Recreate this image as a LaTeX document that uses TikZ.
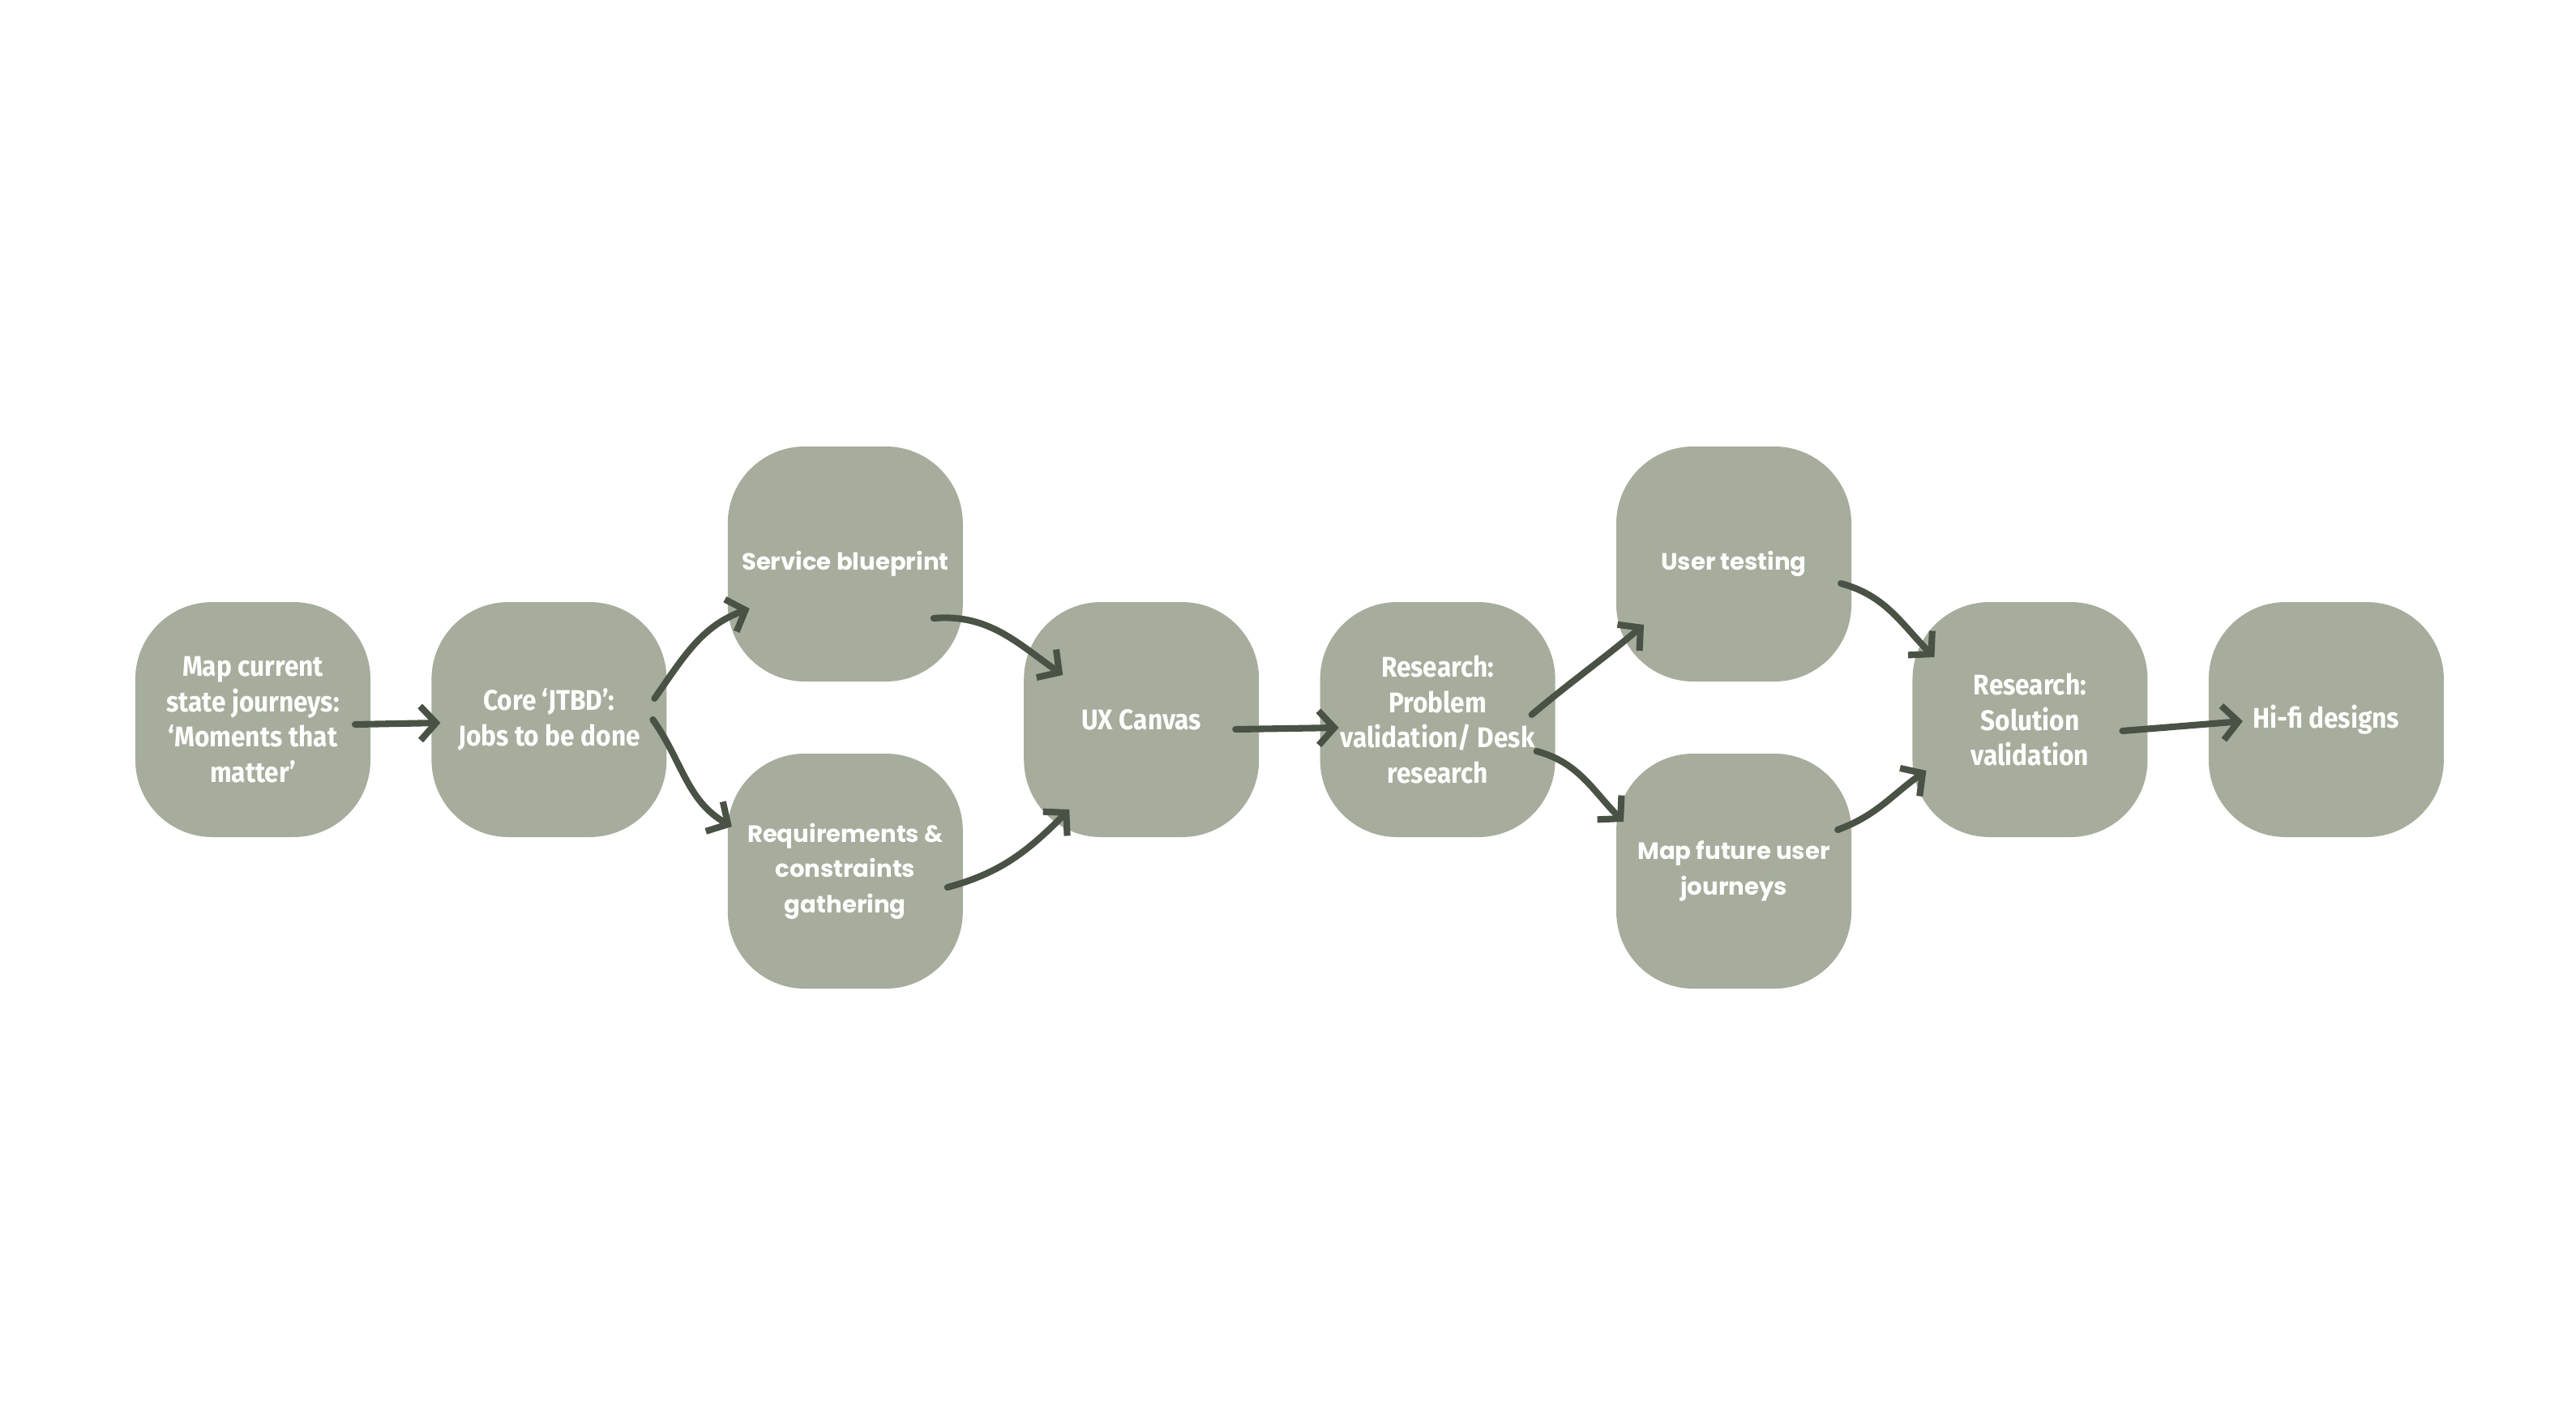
\documentclass[tikz,border=0pt]{standalone}
\usepackage{fontspec}
\usepackage{xcolor}
\usepackage{tikz}
\usetikzlibrary{calc,arrows.meta,positioning}
\newfontfamily\condfont[FakeStretch=0.9]{Fira Sans}
\newfontfamily\roundfont{Poppins}
\definecolor{sageFill}{RGB}{166,173,156}
\definecolor{mossInk}{RGB}{74,81,69}
\tikzset{
  card/.style={rounded corners=0.95cm,fill=sageFill,minimum width=2.9cm,minimum height=2.9cm,inner sep=0pt,text=white,align=center},
  midcard/.style={card,font=\condfont\bfseries\fontsize{10}{12.4}\selectfont},
  sidecard/.style={card,font=\roundfont\bfseries\fontsize{8.3}{12.4}\selectfont},
  flow/.style={draw=mossInk,line width=2.3pt,line cap=round,line join=round,-{Straight Barb[length=5.5pt,width=12pt]}}
}

\begin{document}
\begin{tikzpicture}
\useasboundingbox[fill=white] (-3.12,-8.72) rectangle (28.66,8.88);
% middle row and branches
\node[midcard] (map) at (0,0) {Map current\\state journeys:\\‘Moments that\\matter’};
\node[midcard,right=0.74cm of map] (core) {Core ‘JTBD’:\\Jobs to be done};
\node[sidecard,right=0.74cm of core,yshift=1.92cm] (blueprint) {Service blueprint};
\node[sidecard,right=0.74cm of core,yshift=-1.87cm] (reqs) {Requirements \&\\constraints\\gathering};
\node[midcard,right=0.74cm of blueprint,yshift=-1.92cm] (canvas) {UX Canvas};
\node[midcard,right=0.74cm of canvas] (probres) {Research:\\Problem\\validation/ Desk\\research};
\node[sidecard,right=0.74cm of probres,yshift=1.92cm] (testing) {User testing};
\node[sidecard,right=0.74cm of probres,yshift=-1.87cm] (future) {Map future user\\journeys};
\node[midcard,right=0.74cm of testing,yshift=-1.92cm] (solres) {Research:\\Solution\\validation};
\node[midcard,right=0.74cm of solres] (hifi) {Hi-fi designs};
% connectors
\draw[flow] ($(map)+(1.26,-0.06)$) -- ($(core)+(-1.34,-0.04)$);
\draw[flow] ($(core)+(1.30,0.26)$) to[out=55,in=200] ($(blueprint)+(-1.18,-0.55)$);
\draw[flow] ($(core)+(1.28,0)$) to[out=-55,in=150] ($(reqs)+(-1.40,0.55)$);
\draw[flow] ($(blueprint)+(1.09,-0.67)$) to[out=5,in=145] ($(canvas)+(-0.97,0.55)$);
\draw[flow] ($(reqs)+(1.26,-0.20)$) to[out=15,in=225] ($(canvas)+(-0.89,-1.11)$);
\draw[flow] ($(canvas)+(1.16,-0.12)$) -- ($(probres)+(-1.22,-0.10)$);
\draw[flow] ($(probres)+(1.16,0.06)$) to[out=40,in=220] ($(testing)+(-1.11,-0.75)$);
\draw[flow] ($(probres)+(1.22,-0.39)$) to[out=-15,in=135] ($(future)+(-1.36,0.61)$);
\draw[flow] ($(testing)+(1.32,-0.24)$) to[out=-15,in=135] ($(solres)+(-1.18,0.77)$);
\draw[flow] ($(future)+(1.28,0.51)$) to[out=20,in=215] ($(solres)+(-1.28,-0.63)$);
\draw[flow] ($(solres)+(1.14,-0.14)$) -- ($(hifi)+(-1.03,-0.02)$);
\end{tikzpicture}
\end{document}
